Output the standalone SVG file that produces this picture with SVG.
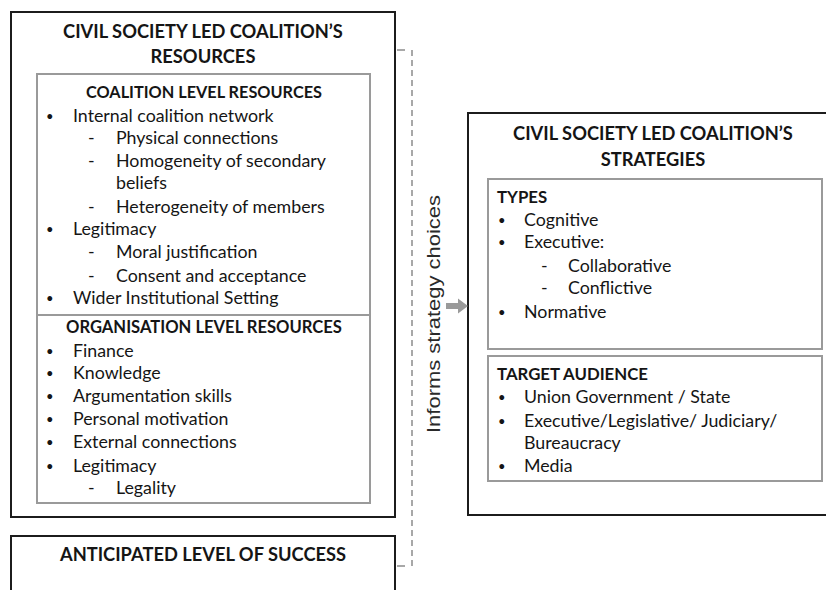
<svg xmlns="http://www.w3.org/2000/svg" width="826" height="590" viewBox="0 0 826 590">
  <style>
    text { font-family: Lato, "Open Sans", "Liberation Sans", sans-serif; fill: #151515; }
    .title { font-size: 18.3px; font-weight: bold; text-anchor: middle; }
    .head { font-size: 16.8px; font-weight: bold; }
    .headc { font-size: 16.3px; font-weight: bold; text-anchor: middle; }
    .item { font-size: 17.8px; }
    .dot { font-size: 13px; }
    .side { font-family: "Liberation Sans", Arial, sans-serif; font-size: 19px; fill: #2a2a2a; text-anchor: middle; }
    .outer { fill: #fff; stroke: #1c1c1c; stroke-width: 2; }
    .inner { fill: none; stroke: #9a9a9a; stroke-width: 2; }
    .link { stroke: #a8a8a8; stroke-width: 2; fill: none; }
  </style>

  <rect width="826" height="590" fill="#fff"/>

  <!-- Resources node -->
  <g id="resources">
    <rect class="outer" x="11" y="12" width="384" height="505"/>
    <text class="title" x="203" y="38">CIVIL SOCIETY LED COALITION’S</text>
    <text class="title" x="203" y="63">RESOURCES</text>
  </g>

  <g id="coalition-level">
    <rect class="inner" x="37" y="74" width="333" height="241"/>
    <text class="headc" x="204" y="98">COALITION LEVEL RESOURCES</text>
    <text class="dot" x="46" y="121">•</text>
    <text class="item" x="73" y="122">Internal coalition network</text>
    <text class="item" x="88" y="144">-</text>
    <text class="item" x="116" y="144">Physical connections</text>
    <text class="item" x="88" y="167">-</text>
    <text class="item" x="116" y="167">Homogeneity of secondary</text>
    <text class="item" x="116" y="189">beliefs</text>
    <text class="item" x="88" y="213">-</text>
    <text class="item" x="116" y="213">Heterogeneity of members</text>
    <text class="dot" x="46" y="234">•</text>
    <text class="item" x="73" y="235">Legitimacy</text>
    <text class="item" x="88" y="258">-</text>
    <text class="item" x="116" y="258">Moral justification</text>
    <text class="item" x="88" y="282">-</text>
    <text class="item" x="116" y="282">Consent and acceptance</text>
    <text class="dot" x="46" y="303">•</text>
    <text class="item" x="73" y="304">Wider Institutional Setting</text>
  </g>

  <g id="organisation-level">
    <rect class="inner" x="37" y="315" width="333" height="188"/>
    <text class="headc" x="204" y="333" style="font-size:16.6px">ORGANISATION LEVEL RESOURCES</text>
    <text class="dot" x="46" y="356">•</text>
    <text class="item" x="73" y="357">Finance</text>
    <text class="dot" x="46" y="378">•</text>
    <text class="item" x="73" y="379">Knowledge</text>
    <text class="dot" x="46" y="401">•</text>
    <text class="item" x="73" y="402">Argumentation skills</text>
    <text class="dot" x="46" y="424">•</text>
    <text class="item" x="73" y="425">Personal motivation</text>
    <text class="dot" x="46" y="447">•</text>
    <text class="item" x="73" y="448">External connections</text>
    <text class="dot" x="46" y="471">•</text>
    <text class="item" x="73" y="472">Legitimacy</text>
    <text class="item" x="88" y="494">-</text>
    <text class="item" x="116" y="494">Legality</text>
  </g>

  <!-- Anticipated success node -->
  <g id="anticipated-success">
    <rect class="outer" x="11" y="536" width="384" height="80"/>
    <text class="title" x="203" y="561">ANTICIPATED LEVEL OF SUCCESS</text>
  </g>

  <!-- Strategies node -->
  <g id="strategies">
    <rect class="outer" x="468" y="113" width="380" height="402"/>
    <text class="title" x="653" y="140">CIVIL SOCIETY LED COALITION’S</text>
    <text class="title" x="653" y="166">STRATEGIES</text>
  </g>

  <g id="types">
    <rect class="inner" x="488" y="179" width="334" height="170"/>
    <text class="head" x="497" y="203">TYPES</text>
    <text class="dot" x="498" y="225">•</text>
    <text class="item" x="524" y="226">Cognitive</text>
    <text class="dot" x="498" y="247">•</text>
    <text class="item" x="524" y="248">Executive:</text>
    <text class="item" x="541" y="272">-</text>
    <text class="item" x="568" y="272">Collaborative</text>
    <text class="item" x="541" y="294">-</text>
    <text class="item" x="568" y="294">Conflictive</text>
    <text class="dot" x="498" y="317">•</text>
    <text class="item" x="524" y="318">Normative</text>
  </g>

  <g id="target-audience">
    <rect class="inner" x="488" y="356" width="334" height="125"/>
    <text class="head" x="497" y="380">TARGET AUDIENCE</text>
    <text class="dot" x="498" y="402">•</text>
    <text class="item" x="524" y="403">Union Government / State</text>
    <text class="dot" x="498" y="426">•</text>
    <text class="item" x="524" y="427">Executive/Legislative/ Judiciary/</text>
    <text class="item" x="524" y="449">Bureaucracy</text>
    <text class="dot" x="498" y="471">•</text>
    <text class="item" x="524" y="472">Media</text>
  </g>

  <!-- Connectors: dashed bracket and arrow into strategies -->
  <g id="connectors">
    <line class="link" x1="397" y1="50" x2="405" y2="50"/>
    <line class="link" x1="397" y1="566" x2="405" y2="566"/>
    <line class="link" x1="412" y1="50" x2="412" y2="567" stroke-dasharray="6 4"/>
    <path d="M446 303 H458 V298.5 L468 306 L458 313.5 V309 H446 Z" fill="#9a9a9a"/>
    <text class="side" transform="translate(440,314) rotate(-90)" textLength="238" lengthAdjust="spacingAndGlyphs">Informs strategy choices</text>
  </g>
</svg>
